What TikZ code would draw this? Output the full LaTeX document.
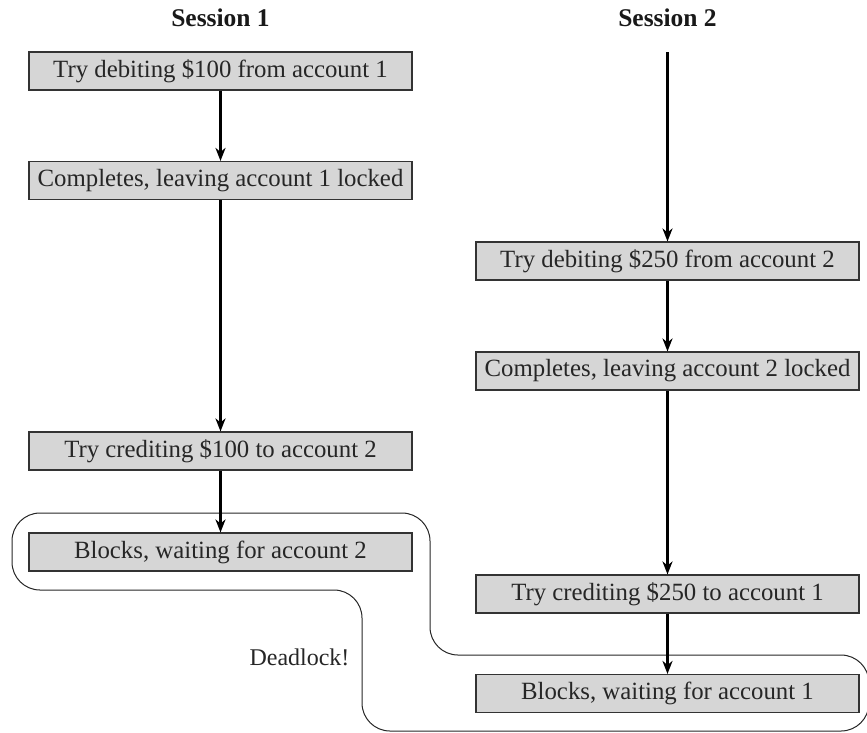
\documentclass[tikz,border=0pt]{standalone}
\usepackage{fontspec}
\setmainfont{Liberation Serif}
\usetikzlibrary{arrows.meta}
\begin{document}
\begin{tikzpicture}[x=1pt,y=-1pt,
  stepbox/.style={draw=black!80, fill=black!16, line width=1.1pt,
    minimum width=383pt, minimum height=38pt, inner sep=0pt,
    font=\fontsize{24.8}{28}\selectfont, text=black!85},
  title/.style={font=\fontsize{25.5}{30}\selectfont\bfseries, text=black!90},
  flow/.style={line width=2.2pt, -{Stealth[length=13pt,width=10pt,inset=4pt]}},
  lbl/.style={font=\fontsize{24}{28}\selectfont, text=black!85}]
\useasboundingbox (0,0) rectangle (867,732);
% titles
\node[title] (s1) at (220.5,18) {Session 1};
\node[title] (s2) at (667.5,18) {Session 2};
% session 1
\node[stepbox] (b1) at (220.5,71) {Try debiting \$100 from account 1};
\node[stepbox] (b2) at (220.5,180.5) {Completes, leaving account 1 locked};
\node[stepbox] (b3) at (220.5,451) {Try crediting \$100 to account 2};
\node[stepbox] (b4) at (220.5,552) {Blocks, waiting for account 2};
% session 2
\coordinate (top2) at (667.5,52);
\node[stepbox] (r1) at (667.5,261) {Try debiting \$250 from account 2};
\node[stepbox] (r2) at (667.5,371) {Completes, leaving account 2 locked};
\node[stepbox] (r3) at (667.5,594) {Try crediting \$250 to account 1};
\node[stepbox] (r4) at (667.5,693.5) {Blocks, waiting for account 1};
% deadlock outline
\draw[line width=1pt, black!85, rounded corners=28pt]
  (200,513) -- (430,513) -- (430,655) -- (869,655) -- (869,731)
  -- (362,731) -- (362,590) -- (12,590) -- (12,513) -- cycle;
\node[lbl, anchor=east] (dl) at (353,657) {Deadlock!};
% arrows
\draw[flow] (b1) -- (b2);
\draw[flow] (b2) -- (b3);
\draw[flow] (b3) -- (b4);
\draw[flow] (top2) -- (r1);
\draw[flow] (r1) -- (r2);
\draw[flow] (r2) -- (r3);
\draw[flow] (r3) -- (r4);
\end{tikzpicture}
\end{document}
